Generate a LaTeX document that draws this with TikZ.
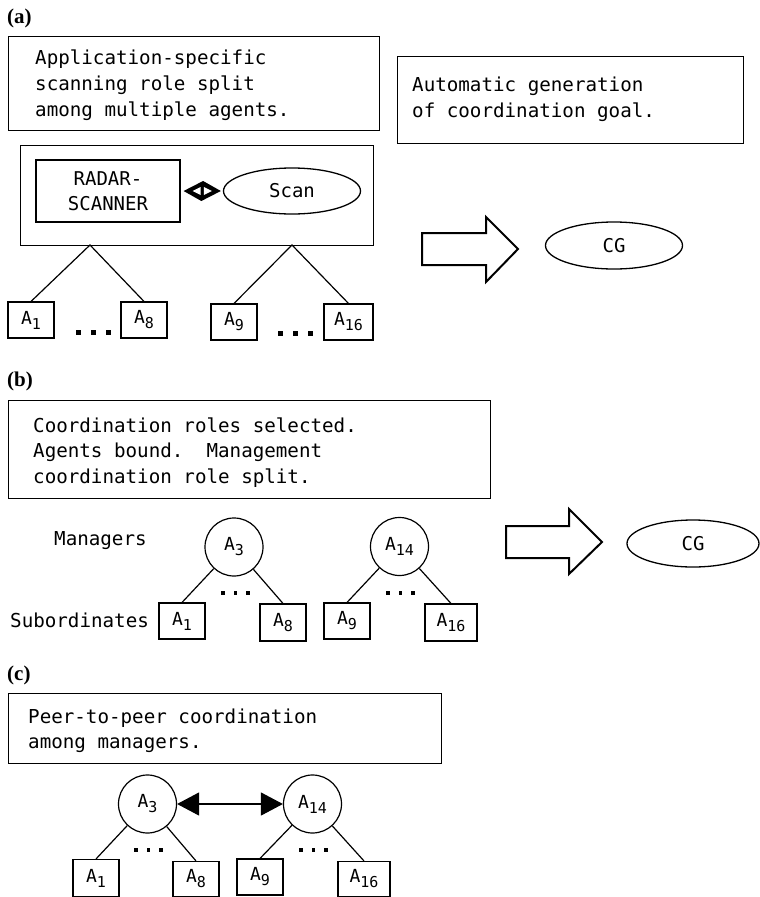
\documentclass[tikz,border=0pt]{standalone}
\usepackage{fontspec}
\setmainfont{Liberation Serif}
\newfontfamily\monofam{DejaVu Sans Mono}
\usetikzlibrary{shapes.geometric,arrows.meta}
\newcommand{\Asb}[1]{A\raisebox{-0.28em}{\fontsize{15}{15}\selectfont #1}}
\tikzset{
  panellabel/.style={font=\bfseries\fontsize{21}{21}\selectfont, inner sep=0, anchor=base west},
  txt/.style={font=\monofam\fontsize{19.2}{24}\selectfont, inner sep=0, anchor=base west},
  frame/.style={draw, line width=1.2pt, inner sep=0, anchor=north west},
  inlbl/.style={font=\monofam\fontsize{19}{25}\selectfont, align=center},
  agent/.style={draw, line width=1.1pt, inner sep=0, minimum width=46pt, minimum height=36pt, font=\monofam\fontsize{18}{18}\selectfont},
  mgr/.style={draw, circle, line width=1.2pt, inner sep=0, minimum size=58pt, font=\monofam\fontsize{18}{18}\selectfont},
  goal/.style={draw, ellipse, line width=1.3pt, inner sep=0, minimum width=137pt, minimum height=47pt, font=\monofam\fontsize{19}{19}\selectfont},
  edge/.style={line width=1.2pt},
  bigarrow/.style={draw, line width=2pt, line join=miter},
  sqdot/.style={fill=black}
}
\begin{document}
\begin{tikzpicture}[x=1pt,y=-1pt]
\useasboundingbox (0,0) rectangle (760,897);

% ---------------- (a) ----------------
\node[panellabel] (la) at (7,23) {(a)};
\node[frame, minimum width=371pt, minimum height=94pt] (boxa1) at (8,36) {};
\node[txt] (ta1) at (35,64) {Application-specific};
\node[txt] (ta2) at (35,90) {scanning role split};
\node[txt] (ta3) at (35,116) {among multiple agents.};

\node[frame, minimum width=346pt, minimum height=87pt] (boxa2) at (397,56) {};
\node[txt] (ta4) at (412,91) {Automatic generation};
\node[txt] (ta5) at (412,117) {of coordination goal.};

\node[frame, minimum width=353pt, minimum height=100pt] (outer) at (20,145) {};
\node[frame, inlbl, minimum width=144pt, minimum height=62pt, anchor=center] (radar) at (108,191) {RADAR-\\SCANNER};
\node[goal, minimum height=46pt] (scan) at (292,191) {Scan};

% double diamond arrow between radar and scan
\path (radar.east) ++(3,0) coordinate (dL);
\path (scan.west) ++(-2,0) coordinate (dR);
\fill[black] (dL) -- ++(19.5,-10) -- (dR) -- ++(-19.5,10) -- cycle;
\fill[white] (dL) ++(9,0) -- ++(8,-4) -- ++(0,8) -- cycle;
\fill[white] (dR) ++(-9,0) -- ++(-8,-4) -- ++(0,8) -- cycle;

\coordinate (ap1) at (90,245);
\coordinate (ap2) at (292,245);
\node[agent] (A1a) at (31,320) {\Asb{1}};
\node[agent] (A8a) at (144,320) {\Asb{8}};
\node[agent] (A9a) at (234,322) {\Asb{9}};
\node[agent, minimum width=49pt] (A16a) at (348.5,322) {\Asb{16}};
\draw[edge] (A1a.north) -- (ap1) -- (A8a.north);
\draw[edge] (A9a.north) -- (ap2) -- (A16a.north);
\foreach \x in {78,93,108} \fill[sqdot] (\x-2.5,329.5) rectangle (\x+2.5,334.5);
\foreach \x in {280.5,295.5,310.5} \fill[sqdot] (\x-2.5,331) rectangle (\x+2.5,336);

\draw[bigarrow] (422,233) -- (486,233) -- (486,217) -- (518,249) -- (486,282) -- (486,265) -- (422,265) -- cycle;
\node[goal] (CGa) at (614,245.5) {CG};

% ---------------- (b) ----------------
\node[panellabel] (lb) at (7,386) {(b)};
\node[frame, minimum width=482pt, minimum height=98pt] (boxb) at (8,400) {};
\node[txt] (tb1) at (33,432) {Coordination roles selected.};
\node[txt] (tb2) at (33,457) {Agents bound.\ \ Management};
\node[txt] (tb3) at (33,483) {coordination role split.};
\node[txt] (mg) at (54,545) {Managers};
\node[txt] (sb) at (10,627) {Subordinates};

\node[mgr] (A3b) at (234,547) {\Asb{3}};
\node[mgr] (A14b) at (399.5,546.5) {\Asb{14}};
\node[agent] (A1b) at (182,621) {\Asb{1}};
\node[agent, minimum height=37pt] (A8b) at (283,622.5) {\Asb{8}};
\node[agent] (A9b) at (347,621) {\Asb{9}};
\node[agent, minimum width=52pt, minimum height=37pt] (A16b) at (451,622.5) {\Asb{16}};
\draw[edge] (A3b) -- (A1b.north);
\draw[edge] (A3b) -- (A8b.north);
\draw[edge] (A14b) -- (A9b.north);
\draw[edge] (A14b) -- (A16b.north);
\foreach \x in {223,235.5,248,388,400.5,413} \fill[sqdot] (\x-1.6,591.4) rectangle (\x+1.6,594.6);

\draw[bigarrow] (506,526) -- (569,526) -- (569,509) -- (602,542) -- (569,574) -- (569,558) -- (506,558) -- cycle;
\node[goal, minimum width=132pt] (CGb) at (693,543.5) {CG};

% ---------------- (c) ----------------
\node[panellabel] (lc) at (7,680) {(c)};
\node[frame, minimum width=433pt, minimum height=70pt] (boxc) at (8,693) {};
\node[txt] (tc1) at (28,723) {Peer-to-peer coordination};
\node[txt] (tc2) at (28,748) {among managers.};

\node[mgr] (A3c) at (147.5,804) {\Asb{3}};
\node[mgr] (A14c) at (312.5,804) {\Asb{14}};
\node[agent, minimum height=37pt] (A1c) at (96,878) {\Asb{1}};
\node[agent, minimum height=35pt] (A8c) at (196,879) {\Asb{8}};
\node[agent] (A9c) at (260,877) {\Asb{9}};
\node[agent, minimum width=52pt, minimum height=35pt] (A16c) at (364,879) {\Asb{16}};
\draw[edge] (A3c) -- (A1c.north);
\draw[edge] (A3c) -- (A8c.north);
\draw[edge] (A14c) -- (A9c.north);
\draw[edge] (A14c) -- (A16c.north);
\foreach \x in {136,148.5,161,301,313.5,326} \fill[sqdot] (\x-1.6,848.4) rectangle (\x+1.6,851.6);
\draw[line width=1.2pt, {Triangle[length=22pt,width=23pt]}-{Triangle[length=22pt,width=23pt]}] (A3c) -- (A14c);

\end{tikzpicture}
\end{document}
